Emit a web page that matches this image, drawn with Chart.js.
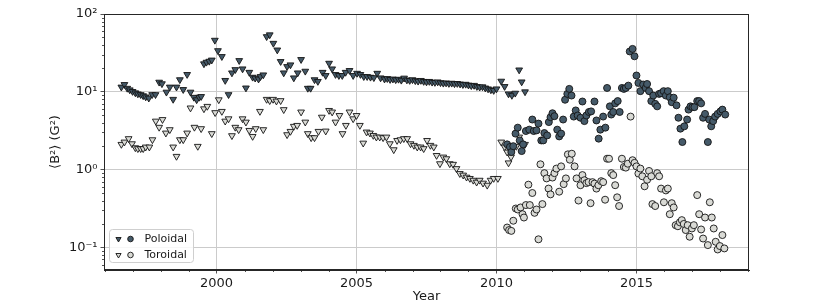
<!DOCTYPE html>
<html>
<head>
<meta charset="utf-8">
<script src="https://cdn.jsdelivr.net/npm/chart.js@4/dist/chart.umd.min.js"></script>
<style>
  html, body { margin: 0; padding: 0; background: #ffffff; }
  #wrap { width: 831px; height: 307px; position: relative; }
</style>
</head>
<body>
<div id="wrap"><canvas id="c" width="831" height="307"></canvas></div>
<script>
// ---------- DATA ----------
const seriesNames = ['Poloidal', 'Toroidal'];
const xTickYears = [2000, 2005, 2010, 2015];
const yTickValues = [0.1, 1, 10, 100];
const yTickLabels = ['10\u207B\u00B9', '10\u2070', '10\u00B9', '10\u00B2'];
const xTitle = 'Year';
const yTitle = '\u27E8B\u00B2\u27E9 (G\u00B2)';

// [year, <B^2>] pairs
const poloidalTriangles = [
  [1996.60,11.5],[1996.71,12.4],[1996.81,11.1],[1996.90,10.6],[1997.00,10.1],[1997.10,9.7],[1997.19,9.4],
  [1997.29,9.2],[1997.38,8.9],[1997.47,8.6],[1997.58,8.3],[1997.70,9.2],[1997.82,9.2],[1997.95,13.3],
  [1998.05,12.7],[1998.21,9.9],[1998.33,11.5],[1998.45,8.0],[1998.57,11.5],[1998.69,14.3],[1998.81,10.7],
  [1998.95,16.7],[1999.07,9.9],[1999.19,8.5],[1999.29,7.9],[1999.38,8.5],[1999.45,8.7],[1999.55,22.9],
  [1999.64,24.0],[1999.74,24.7],[1999.83,25.6],[1999.94,46.0],[2000.05,33.8],[2000.19,28.4],[2000.31,14.0],
  [2000.43,9.2],[2000.55,17.5],[2000.67,19.3],[2000.81,25.2],[2000.93,19.7],[2001.05,11.2],[2001.17,17.8],
  [2001.29,15.4],[2001.38,15.0],[2001.50,14.6],[2001.57,15.7],[2001.67,16.5],[2001.79,51.2],[2001.90,54.0],
  [2002.03,42.0],[2002.17,34.5],[2002.29,24.5],[2002.40,17.5],[2002.52,21.1],[2002.64,22.2],[2002.76,15.1],
  [2002.90,17.5],[2003.02,26.0],[2003.17,18.4],[2003.26,11.1],[2003.36,11.1],[2003.50,14.3],[2003.62,13.6],
  [2003.79,17.8],[2003.90,16.2],[2004.02,23.3],[2004.13,19.7],[2004.25,16.7],[2004.37,16.2],[2004.49,16.2],
  [2004.61,17.8],[2004.75,18.8],[2004.88,16.2],[2005.02,17.3],[2005.14,16.7],[2005.26,15.7],[2005.38,15.7],
  [2005.50,15.4],[2005.62,15.2],[2005.74,17.3],[2005.86,15.1],[2006.00,14.6],[2006.10,14.8],[2006.20,14.4],
  [2006.30,14.6],[2006.40,14.3],[2006.50,14.5],[2006.60,14.1],[2006.70,15.0],[2006.80,14.2],[2006.90,14.0],
  [2007.00,14.3],[2007.10,13.9],[2007.20,13.7],[2007.30,14.0],[2007.40,13.6],[2007.50,13.4],[2007.60,13.6],
  [2007.70,13.3],[2007.80,13.2],[2007.90,13.4],[2008.00,13.1],[2008.10,12.9],[2008.20,13.0],[2008.30,12.8],
  [2008.40,12.9],[2008.50,12.7],[2008.60,12.8],[2008.70,12.6],[2008.80,12.4],[2008.90,12.5],[2009.00,12.2],
  [2009.10,12.0],[2009.20,12.1],[2009.30,11.7],[2009.40,11.5],[2009.50,11.6],[2009.60,11.2],[2009.70,10.9],
  [2009.80,10.6],[2009.90,10.4],[2010.00,10.9],[2010.17,13.7],[2010.29,11.7],[2010.43,9.4],[2010.55,9.0],
  [2010.67,9.6],[2010.81,19.1],[2010.90,13.4],[2011.02,10.0]
];
const toroidalTriangles = [
  [1996.60,2.11],[1996.71,2.26],[1996.86,2.5],[1996.98,2.15],[1997.10,1.91],[1997.19,1.86],[1997.29,1.86],
  [1997.38,1.86],[1997.47,1.95],[1997.60,1.95],[1997.71,2.42],[1997.83,4.2],[1997.95,3.5],[1998.07,4.4],
  [1998.19,2.95],[1998.33,3.26],[1998.45,1.95],[1998.57,1.48],[1998.69,2.42],[1998.81,2.42],[1998.95,2.95],
  [1999.07,6.2],[1999.21,3.5],[1999.33,1.99],[1999.45,3.36],[1999.55,6.05],[1999.67,6.5],[1999.83,2.9],
  [1999.95,5.4],[2000.08,7.9],[2000.19,5.6],[2000.31,4.2],[2000.43,4.5],[2000.55,2.73],[2000.67,3.5],
  [2000.79,3.26],[2000.93,4.5],[2001.05,4.08],[2001.17,3.19],[2001.29,2.67],[2001.40,3.36],[2001.55,5.6],
  [2001.67,3.26],[2001.79,8.0],[2001.90,7.7],[2002.02,8.0],[2002.14,7.6],[2002.29,7.7],[2002.40,5.9],
  [2002.52,2.81],[2002.64,3.1],[2002.76,3.6],[2002.88,3.7],[2003.02,5.5],[2003.17,4.08],[2003.26,2.9],
  [2003.38,2.57],[2003.50,2.57],[2003.64,3.1],[2003.76,4.72],[2003.90,3.13],[2004.02,5.76],[2004.13,5.5],
  [2004.25,4.08],[2004.39,4.96],[2004.50,2.9],[2004.62,3.7],[2004.75,5.5],[2004.88,4.5],[2005.00,4.96],
  [2005.12,3.7],[2005.24,2.19],[2005.36,3.04],[2005.48,2.95],[2005.60,2.75],[2005.71,2.62],[2005.83,2.62],
  [2005.95,2.57],[2006.07,2.62],[2006.19,2.15],[2006.33,1.8],[2006.45,2.37],[2006.57,2.42],[2006.69,2.5],
  [2006.81,2.5],[2006.93,2.15],[2007.05,2.05],[2007.17,1.95],[2007.29,1.95],[2007.40,1.86],[2007.52,2.37],
  [2007.64,2.05],[2007.76,1.95],[2007.86,1.52],[2007.98,1.19],[2008.10,1.45],[2008.21,1.38],[2008.33,1.19],
  [2008.45,1.17],[2008.57,1.03],[2008.69,0.89],[2008.81,0.85],[2008.93,0.80],[2009.05,0.77],[2009.17,0.73],
  [2009.29,0.69],[2009.40,0.73],[2009.52,0.67],[2009.67,0.63],[2009.79,0.73],[2009.90,0.77],[2010.05,0.77],
  [2010.17,2.26],[2010.29,1.95],[2010.38,1.68],[2010.43,1.22],[2010.52,1.45],[2010.62,1.95],[2010.71,1.99],
  [2010.81,2.62],[2010.90,2.15],[2011.02,2.11]
];
const poloidalCircles = [
  [2010.38,2.11],[2010.48,1.95],[2010.53,1.68],[2010.60,2.0],[2010.68,2.9],[2010.76,3.46],[2010.83,2.37],
  [2010.90,1.73],[2010.95,2.11],[2011.05,3.13],[2011.17,3.26],[2011.28,4.4],[2011.33,3.13],[2011.43,3.19],
  [2011.50,3.9],[2011.60,2.37],[2011.67,2.37],[2011.71,2.95],[2011.81,2.75],[2011.87,4.08],[2011.93,4.72],
  [2012.00,5.3],[2012.07,4.86],[2012.17,3.26],[2012.24,2.67],[2012.31,2.9],[2012.38,4.4],[2012.45,7.9],
  [2012.53,9.4],[2012.60,10.9],[2012.68,8.95],[2012.76,4.8],[2012.83,5.76],[2012.90,4.96],[2013.00,4.64],
  [2013.07,7.5],[2013.14,4.2],[2013.21,4.96],[2013.30,5.5],[2013.38,5.6],[2013.50,7.5],[2013.57,4.28],
  [2013.65,2.5],[2013.71,3.26],[2013.81,4.8],[2013.89,3.46],[2013.95,11.2],[2014.05,6.5],[2014.10,5.1],
  [2014.17,5.5],[2014.24,7.1],[2014.33,7.6],[2014.40,5.5],[2014.48,11.2],[2014.55,10.9],[2014.62,11.2],
  [2014.71,12.0],[2014.76,33.0],[2014.86,35.6],[2014.93,28.6],[2015.00,16.2],[2015.07,13.0],[2015.14,10.2],
  [2015.24,12.4],[2015.33,11.2],[2015.38,12.6],[2015.45,10.2],[2015.53,7.6],[2015.60,8.95],[2015.67,7.0],
  [2015.74,6.5],[2015.81,9.4],[2015.88,9.6],[2015.97,10.2],[2016.05,8.95],[2016.12,10.2],[2016.19,8.5],
  [2016.26,7.35],[2016.33,8.4],[2016.43,6.7],[2016.50,4.64],[2016.57,3.36],[2016.64,2.26],[2016.71,3.6],
  [2016.81,4.4],[2016.86,5.9],[2016.93,6.5],[2017.00,6.35],[2017.07,6.35],[2017.17,7.6],[2017.24,7.6],
  [2017.31,7.1],[2017.38,4.64],[2017.45,5.2],[2017.55,2.26],[2017.60,4.4],[2017.67,3.6],[2017.74,4.2],
  [2017.81,4.8],[2017.90,5.2],[2018.00,5.6],[2018.07,5.9],[2018.17,5.1]
];
const toroidalCircles = [
  [2010.38,0.18],[2010.45,0.167],[2010.53,0.163],[2010.60,0.22],[2010.69,0.316],[2010.76,0.307],[2010.86,0.326],
  [2010.93,0.267],[2010.98,0.242],[2011.05,0.35],[2011.14,0.64],[2011.19,0.35],[2011.28,0.50],[2011.36,0.278],
  [2011.43,0.307],[2011.50,0.127],[2011.57,1.17],[2011.64,0.36],[2011.71,0.90],[2011.79,0.77],[2011.86,0.57],
  [2011.93,0.48],[2012.00,0.79],[2012.07,0.90],[2012.14,1.03],[2012.24,0.52],[2012.31,1.10],[2012.40,0.65],
  [2012.48,0.77],[2012.55,1.57],[2012.62,1.34],[2012.69,1.6],[2012.79,1.10],[2012.86,0.77],[2012.93,0.40],
  [2013.00,0.63],[2013.07,0.85],[2013.14,0.73],[2013.21,0.67],[2013.29,0.69],[2013.36,0.37],[2013.43,0.69],
  [2013.50,0.66],[2013.57,0.57],[2013.64,0.63],[2013.74,0.71],[2013.81,0.69],[2013.88,0.41],[2013.95,1.38],
  [2014.02,1.38],[2014.10,0.90],[2014.17,0.85],[2014.24,0.63],[2014.31,0.44],[2014.38,0.34],[2014.48,1.38],
  [2014.55,1.08],[2014.62,1.06],[2014.69,1.19],[2014.79,4.8],[2014.86,1.32],[2014.93,1.22],[2015.00,1.10],
  [2015.07,0.89],[2015.14,1.03],[2015.21,0.82],[2015.29,0.61],[2015.38,0.74],[2015.45,0.96],[2015.53,0.82],
  [2015.57,0.36],[2015.67,0.34],[2015.74,0.90],[2015.81,0.82],[2015.88,0.57],[2015.98,0.38],[2016.05,0.54],
  [2016.12,0.57],[2016.19,0.267],[2016.26,0.37],[2016.33,0.326],[2016.40,0.193],[2016.48,0.187],[2016.55,0.21],
  [2016.62,0.224],[2016.69,0.20],[2016.76,0.167],[2016.83,0.193],[2016.90,0.137],[2016.98,0.175],[2017.05,0.193],
  [2017.17,0.47],[2017.24,0.267],[2017.31,0.17],[2017.38,0.13],[2017.45,0.242],[2017.55,0.107],[2017.62,0.38],
  [2017.69,0.242],[2017.76,0.175],[2017.83,0.118],[2017.90,0.094],[2017.98,0.104],[2018.07,0.144],[2018.14,0.097]
];

// ---------- STYLE ----------
const DARK = '#455a69';
const LIGHT = '#d9dad5';
const EDGE = '#141414';
const FONT = "'DejaVu Sans', sans-serif";

const toXY = arr => arr.map(p => ({x: p[0], y: p[1]}));

function triStyle(fill) {
  return { pointStyle: 'triangle', rotation: 180, radius: 3.9, pointRadius: 3.9, pointHoverRadius: 3.9,
           backgroundColor: fill, borderColor: EDGE, borderWidth: 0.9, showLine: false };
}
function circStyle(fill) {
  return { pointStyle: 'circle', radius: 3.5, pointRadius: 3.5, pointHoverRadius: 3.5,
           backgroundColor: fill, borderColor: EDGE, borderWidth: 0.9, showLine: false };
}

// frame + minor ticks
const framePlugin = {
  id: 'frame',
  afterDraw(chart) {
    const {ctx, chartArea: a, scales} = chart;
    ctx.save();
    ctx.strokeStyle = '#262626';
    ctx.lineWidth = 1;
    ctx.strokeRect(Math.round(a.left) + 0.5, Math.round(a.top) + 0.5,
                   Math.round(a.right - a.left) - 1, Math.round(a.bottom - a.top) - 1);
    ctx.beginPath();
    const xs = scales.x;
    for (let yr = Math.ceil(xs.min); yr <= Math.floor(xs.max); yr++) {
      if (xTickYears.includes(yr)) continue;
      const px = Math.round(xs.getPixelForValue(yr)) + 0.5;
      ctx.moveTo(px, a.bottom); ctx.lineTo(px, a.bottom + 2);
    }
    const ys = scales.y;
    for (let d = -2; d <= 1; d++) {
      for (let k = 2; k <= 9; k++) {
        const v = k * Math.pow(10, d);
        if (v < ys.min || v > ys.max) continue;
        const py = Math.round(ys.getPixelForValue(v)) + 0.5;
        ctx.moveTo(a.left, py); ctx.lineTo(a.left - 2, py);
      }
    }
    ctx.lineWidth = 0.8;
    ctx.stroke();
    ctx.restore();
  }
};

// legend with two markers per entry
const legendPlugin = {
  id: 'dualLegend',
  afterDraw(chart) {
    const {ctx, chartArea: a} = chart;
    const bx = a.left + 5, by = a.bottom - 41, bw = 84, bh = 33;
    ctx.save();
    ctx.beginPath();
    ctx.roundRect(bx + 0.5, by + 0.5, bw, bh, 3);
    ctx.fillStyle = 'rgba(255,255,255,0.85)';
    ctx.fill();
    ctx.strokeStyle = '#cfcfcf';
    ctx.lineWidth = 1;
    ctx.stroke();
    const rows = [{name: seriesNames[0], fill: DARK, y: by + 10}, {name: seriesNames[1], fill: LIGHT, y: by + 26}];
    rows.forEach(r => {
      ctx.fillStyle = r.fill; ctx.strokeStyle = EDGE; ctx.lineWidth = 0.9;
      Chart.helpers.drawPoint(ctx, {pointStyle: 'triangle', rotation: 180, radius: 3.0, borderWidth: 0.9}, bx + 9.5, r.y);
      ctx.fillStyle = r.fill; ctx.strokeStyle = EDGE; ctx.lineWidth = 0.9;
      Chart.helpers.drawPoint(ctx, {pointStyle: 'circle', rotation: 0, radius: 2.8, borderWidth: 0.9}, bx + 21.5, r.y);
      ctx.fillStyle = '#1a1a1a';
      ctx.font = '11px ' + FONT;
      ctx.textBaseline = 'middle';
      ctx.textAlign = 'left';
      ctx.fillText(r.name, bx + 35.5, r.y + 0.5);
    });
    ctx.restore();
  }
};

new Chart(document.getElementById('c'), {
  type: 'scatter',
  data: {
    datasets: [
      Object.assign({label: seriesNames[0] + ' (tri)', data: toXY(poloidalTriangles), order: 4}, triStyle(DARK)),
      Object.assign({label: seriesNames[1] + ' (tri)', data: toXY(toroidalTriangles), order: 3}, triStyle(LIGHT)),
      Object.assign({label: seriesNames[0], data: toXY(poloidalCircles), order: 2}, circStyle(DARK)),
      Object.assign({label: seriesNames[1], data: toXY(toroidalCircles), order: 1}, circStyle(LIGHT))
    ]
  },
  options: {
    responsive: false,
    animation: false,
    events: [],
    layout: { padding: { left: 0, top: 14, right: 82, bottom: 0 } },
    plugins: { legend: { display: false }, tooltip: { enabled: false } },
    scales: {
      x: {
        type: 'linear',
        min: 1995.98, max: 2019.02,
        afterBuildTicks: s => { s.ticks = xTickYears.map(v => ({value: v})); },
        afterFit: s => { s.height = 37; },
        ticks: { callback: v => String(v), color: '#1a1a1a', font: {family: FONT, size: 13}, padding: 2, maxRotation: 0 },
        grid: { color: '#cbcbcb', lineWidth: 1, tickColor: '#262626', tickLength: 3.5, tickWidth: 0.8 },
        border: { display: true, color: '#262626', width: 1 },
        title: { display: true, text: xTitle, color: '#1a1a1a', font: {family: FONT, size: 13}, padding: {top: 2.5, bottom: 2.5} }
      },
      y: {
        type: 'logarithmic',
        min: 0.0512, max: 100,
        afterBuildTicks: s => { s.ticks = yTickValues.map(v => ({value: v})); },
        afterFit: s => { s.width = 104; },
        ticks: { callback: (v) => { const i = yTickValues.indexOf(v); return i >= 0 ? yTickLabels[i] : ''; },
                 color: '#1a1a1a', font: {family: FONT, size: 13}, padding: 3 },
        grid: { color: '#cbcbcb', lineWidth: 1, tickColor: '#262626', tickLength: 3.5, tickWidth: 0.8 },
        border: { display: true, color: '#262626', width: 1 },
        title: { display: true, text: yTitle, color: '#1a1a1a', font: {family: FONT, size: 13}, padding: {top: 48, bottom: 0} }
      }
    }
  },
  plugins: [framePlugin, legendPlugin]
});
</script>
</body>
</html>
